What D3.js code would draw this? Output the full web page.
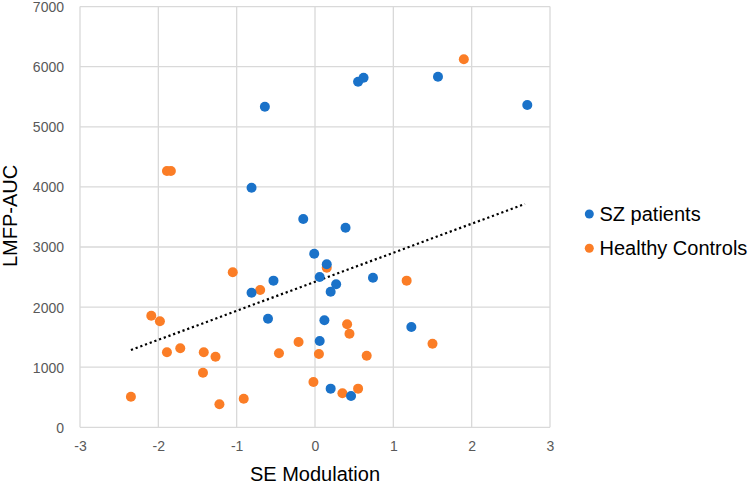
<!DOCTYPE html>
<html><head><meta charset="utf-8">
<script src="https://cdn.jsdelivr.net/npm/d3@7"></script>
<style>body{margin:0;background:#fff}svg{display:block}</style>
</head><body>
<svg id="c" width="750" height="484"></svg>
<script>
const seriesNames = ["SZ patients", "Healthy Controls"];
const seriesColors = ["#1a72c9", "#fb7d26"];
const szX = [-0.64, -0.81, -0.15, 0.55, 0.62, 1.57, 2.71, 0.39, -0.01, 0.15, 0.06, 0.27, 0.2, 0.74, 0.12, 0.06, 1.23, 0.2, 0.46, -0.81, -0.53, -0.6];
const szY = [5335, 3987, 3466, 5750, 5817, 5834, 5363, 3321, 2889, 2712, 2501, 2379, 2256, 2489, 1780, 1436, 1669, 643, 521, 2240, 2440, 1807];
const hcX = [-1.89, -1.84, 1.9, 0.15, 1.17, 0.41, 0.44, -0.21, 0.05, 0.66, 1.5, -0.02, 0.35, 0.55, -1.05, -0.7, -2.09, -1.98, -1.89, -1.72, -1.42, -1.27, -1.43, -2.35, -1.22, -0.91, -0.46];
const hcY = [4265, 4265, 6123, 2656, 2440, 1714, 1558, 1419, 1220, 1192, 1391, 754, 566, 643, 2579, 2285, 1857, 1764, 1248, 1314, 1248, 1175, 908, 509, 383, 476, 1231];
const trendX = [-2.35, 2.68];
const trendY = [1286, 3716];
const xTicks = [-3, -2, -1, 0, 1, 2, 3];
const yTicks = [0, 1000, 2000, 3000, 4000, 5000, 6000, 7000];
const xTitle = "SE Modulation", yTitle = "LMFP-AUC";

const svg = d3.select("#c");
const x = d3.scaleLinear().domain([-3, 3]).range([80, 550]);
const y = d3.scaleLinear().domain([0, 7000]).range([427.3, 6.6]);
const font = "Liberation Sans, Arial, sans-serif";

const g = svg.append("g");
g.selectAll("line.v").data(xTicks).join("line")
  .attr("x1", d => x(d)).attr("x2", d => x(d)).attr("y1", y(7000)).attr("y2", y(0))
  .attr("stroke", "#d9d9d9").attr("stroke-width", 1.3);
g.selectAll("line.h").data(yTicks).join("line")
  .attr("y1", d => y(d)).attr("y2", d => y(d)).attr("x1", x(-3)).attr("x2", x(3))
  .attr("stroke", "#d9d9d9").attr("stroke-width", 1.3);

const xAxis = svg.append("g").attr("transform", `translate(0,${y(0)})`)
  .call(d3.axisBottom(x).tickValues(xTicks).tickSize(0).tickPadding(14).tickFormat(d => String(d)));
const yAxis = svg.append("g").attr("transform", `translate(${x(-3)},0)`)
  .call(d3.axisLeft(y).tickValues(yTicks).tickSize(0).tickPadding(16).tickFormat(d => String(d)));
[xAxis, yAxis].forEach(a => {
  a.select(".domain").remove();
  a.selectAll("text").attr("fill", "#595959").style("font-family", font).style("font-size", "14px");
});
yAxis.selectAll("text").attr("dy", "0.35em");

svg.append("line")
  .attr("x1", x(trendX[0])).attr("y1", y(trendY[0]))
  .attr("x2", x(trendX[1])).attr("y2", y(trendY[1]))
  .attr("stroke", "#000").attr("stroke-width", 2.2).attr("stroke-dasharray", "2.2,2.8");

const series = [
  {xs: szX, ys: szY, c: seriesColors[0]},
  {xs: hcX, ys: hcY, c: seriesColors[1]}
];
series.slice().reverse().forEach(s => {
  svg.append("g").selectAll("circle").data(s.xs.map((v, i) => [v, s.ys[i]])).join("circle")
    .attr("cx", d => x(d[0])).attr("cy", d => y(d[1])).attr("r", 5).attr("fill", s.c);
});

svg.append("text").attr("x", 315).attr("y", 481).attr("text-anchor", "middle")
  .style("font-family", font).style("font-size", "20px").attr("fill", "#000").text(xTitle);
svg.append("text").attr("transform", "translate(17,216) rotate(-90)").attr("text-anchor", "middle")
  .style("font-family", font).style("font-size", "20px").attr("fill", "#000").text(yTitle);

const leg = svg.append("g");
seriesNames.forEach((n, i) => {
  const cy = 214 + i * 34.3;
  leg.append("circle").attr("cx", 589.3).attr("cy", cy).attr("r", 4.5).attr("fill", seriesColors[i]);
  leg.append("text").attr("x", 599.5).attr("y", cy + 7).style("font-family", font).style("font-size", "20px")
    .attr("fill", "#000").text(n);
});
</script>
</body></html>
